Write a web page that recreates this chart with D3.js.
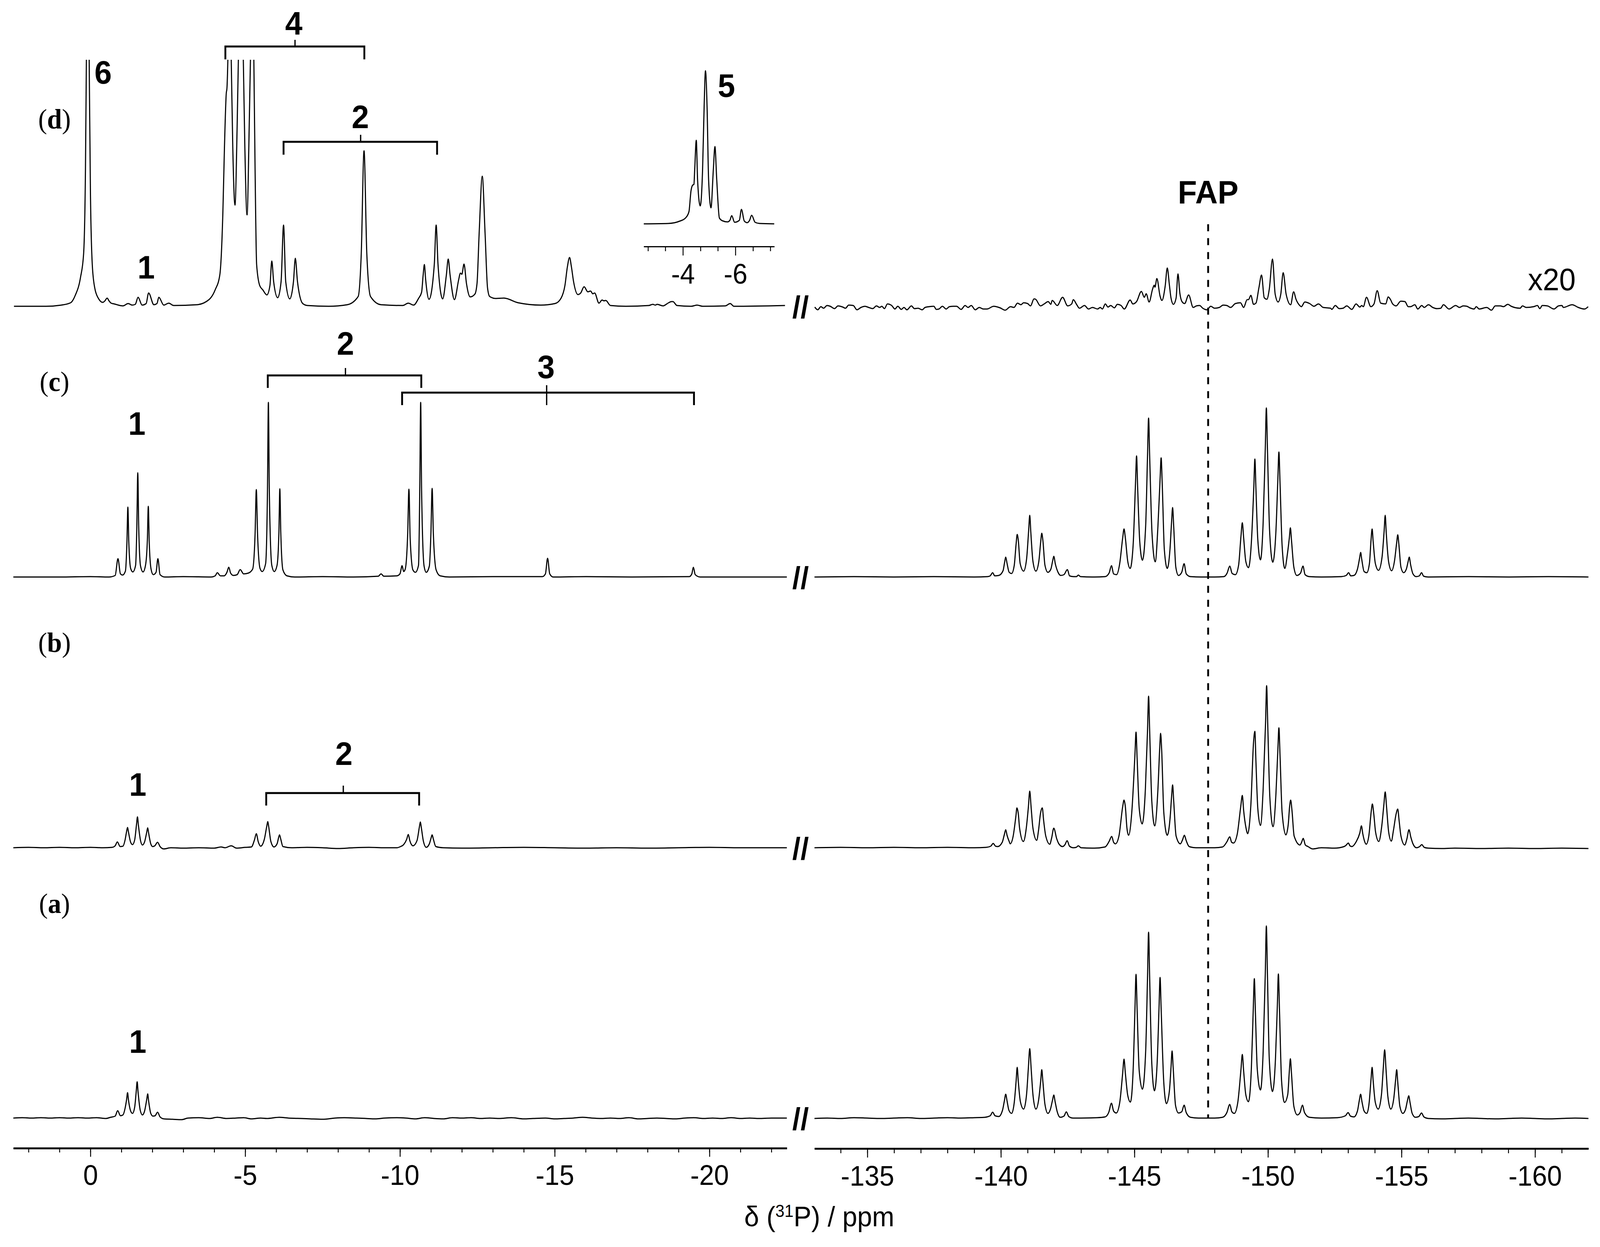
<!DOCTYPE html>
<html>
<head>
<meta charset="utf-8">
<script src="https://cdn.jsdelivr.net/npm/d3@7"></script>
<style>
  html, body { margin: 0; padding: 0; background: #fff; overflow: hidden; }
  text { font-family: "Liberation Sans", Arial, sans-serif; fill: #000; }
  .line { fill: none; stroke: #000; stroke-width: 3; stroke-linejoin: round; }
  .bracket { fill: none; stroke: #000; }
  .tag { font-size: 84px; font-weight: bold; text-anchor: middle; }
  .panel { font-family: "Liberation Serif", serif; font-size: 72px; text-anchor: middle; }
  .tick text { font-size: 72px; font-family: "Liberation Sans", Arial, sans-serif; }
</style>
</head>
<body>
<div id="chart"></div>
<script>
// spectra: [ppm, intensity above baseline]
var dLeft = [[2.47,0],[1.43,0],[0.94,3],[0.64,9],[0.49,28],[0.32,74],[0.22,134],[0.16,351],[0.13,631],[0.08,900],[0.04,631],[0,296],[-0.06,107],[-0.14,47],[-0.26,20],[-0.4,10],[-0.47,14],[-0.54,21],[-0.6,14],[-0.67,8],[-0.77,6],[-1.05,1],[-1.22,7],[-1.35,3],[-1.45,5],[-1.54,23],[-1.67,3],[-1.8,7],[-1.88,34],[-2.05,4],[-2.15,7],[-2.21,23],[-2.37,3],[-2.53,8],[-2.69,2],[-3.44,4],[-3.83,17],[-4.03,42],[-4.18,80],[-4.28,242],[-4.33,405],[-4.39,546],[-4.41,557],[-4.44,631],[-4.49,900],[-4.55,631],[-4.6,405],[-4.67,259],[-4.74,459],[-4.78,631],[-4.86,900],[-4.94,631],[-4.99,405],[-5.06,234],[-5.13,459],[-5.17,631],[-5.22,900],[-5.28,631],[-5.32,351],[-5.37,107],[-5.47,53],[-5.57,42],[-5.7,29],[-5.8,53],[-5.86,116],[-5.92,63],[-6.05,22],[-6.16,63],[-6.24,208],[-6.31,63],[-6.44,19],[-6.56,63],[-6.62,123],[-6.69,63],[-6.86,7],[-7.01,2],[-7.7,0],[-8.3,4],[-8.65,25],[-8.75,134],[-8.84,398],[-8.93,134],[-9.05,25],[-9.39,4],[-10.09,2],[-10.27,8],[-10.44,3],[-10.6,20],[-10.7,36],[-10.75,80],[-10.79,107],[-10.83,69],[-10.94,18],[-11.11,107],[-11.17,208],[-11.23,107],[-11.38,19],[-11.5,80],[-11.56,121],[-11.62,80],[-11.76,17],[-11.9,69],[-11.95,85],[-12,82],[-12.07,108],[-12.15,58],[-12.27,24],[-12.42,31],[-12.49,58],[-12.56,188],[-12.66,333],[-12.75,188],[-12.83,47],[-12.9,25],[-13.09,20],[-13.36,21],[-13.82,9],[-14.55,3],[-15.01,7],[-15.2,20],[-15.33,53],[-15.41,101],[-15.48,125],[-15.54,101],[-15.61,63],[-15.75,30],[-15.84,34],[-15.95,50],[-16.07,37],[-16.16,39],[-16.23,32],[-16.29,34],[-16.43,8],[-16.53,16],[-16.59,14],[-16.65,15],[-16.8,2],[-17.3,0],[-18.04,2],[-18.17,5],[-18.25,3],[-18.31,5],[-18.5,1],[-18.68,9],[-18.77,12],[-18.82,12],[-18.95,2],[-19.41,0],[-19.6,3],[-19.78,0],[-20.51,1],[-20.67,7],[-20.79,0],[-22.44,2]];

var dRight = [[-133.03,-2],[-133.14,-9],[-133.26,-1],[-133.36,-5],[-133.49,2],[-133.61,0],[-133.77,-6],[-133.9,1],[-134.08,-2],[-134.18,-5],[-134.3,3],[-134.47,2],[-134.61,-9],[-134.76,-3],[-134.91,0],[-135.05,-3],[-135.2,-6],[-135.34,1],[-135.46,-3],[-135.54,0],[-135.64,-6],[-135.75,6],[-135.91,2],[-136.03,-7],[-136.14,0],[-136.27,-8],[-136.37,-3],[-136.48,-9],[-136.65,1],[-136.76,-6],[-136.9,-5],[-137.05,-9],[-137.16,-3],[-137.31,-1],[-137.49,0],[-137.58,-8],[-137.68,-7],[-137.81,0],[-137.95,-7],[-138.07,-1],[-138.22,0],[-138.34,0],[-138.51,-8],[-138.66,2],[-138.77,-3],[-138.89,2],[-139.04,-9],[-139.19,-3],[-139.34,-7],[-139.48,-7],[-139.73,0],[-139.97,-4],[-140.16,-10],[-140.36,-1],[-140.49,-3],[-140.62,8],[-140.75,4],[-140.85,9],[-141,7],[-141.11,1],[-141.24,19],[-141.3,18],[-141.48,1],[-141.62,6],[-141.77,12],[-141.87,5],[-141.92,15],[-142.11,2],[-142.31,23],[-142.5,1],[-142.65,6],[-142.71,17],[-142.84,4],[-142.94,-5],[-143.13,2],[-143.28,-7],[-143.43,-3],[-143.62,-7],[-143.72,-3],[-143.8,-7],[-143.91,6],[-144.01,-2],[-144.11,2],[-144.25,-4],[-144.36,5],[-144.5,2],[-144.62,-7],[-144.84,16],[-144.94,6],[-145.08,12],[-145.26,38],[-145.37,23],[-145.44,32],[-145.55,11],[-145.68,44],[-145.74,54],[-145.77,49],[-145.84,71],[-145.96,26],[-146.03,15],[-146.15,51],[-146.23,98],[-146.31,54],[-146.37,21],[-146.46,5],[-146.56,21],[-146.63,83],[-146.7,34],[-146.79,11],[-146.88,7],[-147.03,29],[-147.2,-3],[-147.32,1],[-147.44,2],[-147.56,-5],[-147.71,-9],[-147.86,0],[-148,-5],[-148.18,-3],[-148.32,3],[-148.46,2],[-148.6,-3],[-148.78,7],[-148.97,9],[-149.09,-3],[-149.22,17],[-149.27,17],[-149.36,28],[-149.46,5],[-149.55,8],[-149.66,47],[-149.76,80],[-149.86,22],[-149.96,18],[-150.05,44],[-150.17,121],[-150.27,31],[-150.38,11],[-150.48,31],[-150.57,86],[-150.68,31],[-150.85,4],[-150.96,37],[-151.05,18],[-151.19,2],[-151.25,-1],[-151.38,11],[-151.56,7],[-151.72,0],[-151.89,6],[-152.07,-3],[-152.35,-5],[-152.39,-8],[-152.52,2],[-152.67,-6],[-152.81,-5],[-152.95,1],[-153.14,-8],[-153.3,6],[-153.44,-2],[-153.51,2],[-153.57,-1],[-153.69,23],[-153.85,-1],[-153.97,6],[-154.09,40],[-154.22,8],[-154.41,6],[-154.5,24],[-154.59,17],[-154.67,6],[-154.8,1],[-154.97,13],[-155.13,12],[-155.25,-1],[-155.34,-1],[-155.5,4],[-155.61,-7],[-155.76,2],[-155.85,-3],[-156.01,4],[-156.17,-3],[-156.33,-6],[-156.47,-5],[-156.57,4],[-156.78,-7],[-157.03,2],[-157.17,-3],[-157.31,1],[-157.45,0],[-157.56,-4],[-157.72,-7],[-157.8,-1],[-157.91,-7],[-158.19,-3],[-158.37,-10],[-158.51,1],[-158.7,1],[-158.82,-1],[-158.98,5],[-159.11,0],[-159.44,-5],[-159.53,1],[-159.67,-3],[-159.95,-1],[-160.09,2],[-160.18,-6],[-160.27,2],[-160.46,1],[-160.71,-7],[-160.88,1],[-161.01,2],[-161.06,-3],[-161.39,4],[-161.62,-3],[-161.85,-7],[-161.99,-1]];

var cLeft = [[2.49,0],[1,0],[0,1],[-0.6,0],[-0.8,4],[-0.89,47],[-0.97,8],[-1.04,5],[-1.13,15],[-1.18,90],[-1.21,179],[-1.24,90],[-1.3,22],[-1.37,13],[-1.46,30],[-1.5,130],[-1.53,267],[-1.56,130],[-1.62,28],[-1.7,13],[-1.78,30],[-1.84,95],[-1.87,181],[-1.9,90],[-1.96,20],[-2.03,6],[-2.12,12],[-2.18,47],[-2.25,6],[-2.4,0],[-3,1],[-3.9,0],[-4.03,3],[-4.1,11],[-4.2,3],[-4.32,3],[-4.41,12],[-4.47,25],[-4.53,10],[-4.62,4],[-4.74,6],[-4.84,19],[-4.95,8],[-5.1,10],[-5.24,20],[-5.32,110],[-5.36,224],[-5.4,110],[-5.48,22],[-5.55,14],[-5.66,34],[-5.72,220],[-5.75,447],[-5.78,220],[-5.86,30],[-5.94,14],[-6.03,30],[-6.09,115],[-6.12,226],[-6.15,115],[-6.22,18],[-6.35,3],[-6.6,0],[-7.5,1],[-8.5,0],[-9.3,2],[-9.39,8],[-9.48,2],[-9.9,3],[-10,8],[-10.07,29],[-10.12,14],[-10.17,20],[-10.25,110],[-10.29,225],[-10.33,100],[-10.42,18],[-10.5,12],[-10.6,30],[-10.64,220],[-10.67,447],[-10.7,220],[-10.78,28],[-10.85,12],[-10.95,28],[-11,110],[-11.04,227],[-11.08,110],[-11.17,18],[-11.3,3],[-11.6,0],[-13,1],[-14.6,1],[-14.7,8],[-14.77,48],[-14.84,8],[-14.95,0],[-16,1],[-17.5,0],[-19.35,1],[-19.43,8],[-19.48,25],[-19.54,6],[-19.7,0],[-21,0],[-22.5,0]];

var cRight = [[-133.02,0],[-134.5,1],[-136,0],[-137.5,1],[-139,0],[-139.5,1],[-139.6,3],[-139.69,11],[-139.77,3],[-139.92,4],[-140.08,16],[-140.14,38],[-140.18,51],[-140.23,35],[-140.31,12],[-140.4,9],[-140.5,30],[-140.57,85],[-140.61,109],[-140.65,95],[-140.72,35],[-140.85,15],[-140.96,45],[-141.04,120],[-141.08,158],[-141.12,115],[-141.2,40],[-141.31,15],[-141.42,40],[-141.49,90],[-141.53,112],[-141.57,95],[-141.65,30],[-141.76,12],[-141.87,20],[-141.94,42],[-141.98,53],[-142.04,33],[-142.14,12],[-142.24,4],[-142.36,6],[-142.49,19],[-142.57,3],[-142.72,1],[-142.83,1],[-142.9,5],[-142.98,1],[-143.5,0],[-143.9,1],[-144.05,10],[-144.14,29],[-144.22,8],[-144.33,6],[-144.45,35],[-144.56,100],[-144.61,123],[-144.66,100],[-144.75,40],[-144.84,22],[-144.95,80],[-145.04,240],[-145.08,310],[-145.12,230],[-145.2,90],[-145.3,43],[-145.42,130],[-145.49,310],[-145.53,407],[-145.57,310],[-145.66,110],[-145.78,39],[-145.88,130],[-145.96,250],[-146,305],[-146.04,240],[-146.12,70],[-146.23,22],[-146.33,70],[-146.39,140],[-146.43,178],[-146.47,130],[-146.55,25],[-146.65,4],[-146.77,12],[-146.86,34],[-146.94,8],[-147.1,1],[-147.5,0],[-148,0],[-148.35,1],[-148.47,10],[-148.57,28],[-148.66,9],[-148.78,6],[-148.9,30],[-148.99,105],[-149.04,139],[-149.09,100],[-149.17,40],[-149.27,24],[-149.38,90],[-149.47,230],[-149.51,302],[-149.55,225],[-149.62,95],[-149.72,44],[-149.82,140],[-149.9,330],[-149.94,433],[-149.98,330],[-150.06,120],[-150.18,38],[-150.3,120],[-150.37,250],[-150.41,320],[-150.45,245],[-150.53,80],[-150.63,22],[-150.73,60],[-150.8,100],[-150.84,126],[-150.88,95],[-150.97,25],[-151.08,4],[-151.22,10],[-151.31,28],[-151.39,6],[-151.55,1],[-152,0],[-152.75,1],[-152.93,4],[-153.02,11],[-153.1,3],[-153.22,4],[-153.35,20],[-153.43,48],[-153.47,63],[-153.51,46],[-153.6,14],[-153.7,11],[-153.8,35],[-153.86,95],[-153.9,123],[-153.94,90],[-154.02,35],[-154.14,17],[-154.27,50],[-154.35,118],[-154.39,158],[-154.43,112],[-154.52,38],[-154.63,16],[-154.74,42],[-154.82,88],[-154.86,108],[-154.9,85],[-154.98,25],[-155.08,11],[-155.18,20],[-155.25,40],[-155.29,51],[-155.34,32],[-155.43,8],[-155.55,1],[-155.67,3],[-155.75,11],[-155.83,2],[-156,0],[-157.5,1],[-159,0],[-160.5,1],[-162,0]];

var bLeft = [[2.49,0],[2,1],[1.5,0],[1,1],[0.5,0],[0,1],[-0.4,0],[-0.7,1],[-0.8,5],[-0.87,15],[-0.96,3],[-1.05,4],[-1.12,20],[-1.17,42],[-1.2,52],[-1.23,40],[-1.3,14],[-1.36,8],[-1.43,20],[-1.49,60],[-1.52,79],[-1.55,58],[-1.62,18],[-1.68,7],[-1.75,15],[-1.82,40],[-1.85,51],[-1.88,38],[-1.95,10],[-2.01,3],[-2.08,5],[-2.17,14],[-2.25,3],[-2.37,-3],[-2.6,0],[-3,-1],[-3.5,0],[-4,-1],[-4.22,2],[-4.35,0],[-4.55,5],[-4.72,-1],[-5,1],[-5.2,2],[-5.3,20],[-5.36,36],[-5.42,16],[-5.5,4],[-5.62,22],[-5.7,56],[-5.73,67],[-5.76,54],[-5.83,16],[-5.93,2],[-6.03,10],[-6.08,26],[-6.11,33],[-6.15,22],[-6.22,3],[-6.5,0],[-7,1],[-7.5,0],[-8,-2],[-8.5,0],[-9,1],[-9.5,0],[-9.9,0],[-10.02,3],[-10.12,8],[-10.22,22],[-10.27,34],[-10.32,18],[-10.42,5],[-10.55,18],[-10.63,54],[-10.66,66],[-10.69,52],[-10.76,16],[-10.85,1],[-10.95,10],[-11.01,26],[-11.04,33],[-11.08,22],[-11.16,3],[-11.4,0],[-12,-1],[-13,0],[-14,1],[-15,0],[-16,-1],[-17,0],[-18,-1],[-19,0],[-20,1],[-21,0],[-22.5,0]];

var bRight = [[-133.02,0],[-134,1],[-135,0],[-136,1],[-137,0],[-138,1],[-139,0],[-139.45,1],[-139.62,4],[-139.71,11],[-139.8,4],[-139.88,3],[-140.05,14],[-140.13,34],[-140.18,46],[-140.23,32],[-140.31,16],[-140.35,10],[-140.46,30],[-140.56,80],[-140.6,102],[-140.65,88],[-140.7,50],[-140.84,16],[-140.95,50],[-141.03,105],[-141.08,145],[-141.13,105],[-141.2,50],[-141.34,19],[-141.41,45],[-141.48,87],[-141.55,102],[-141.6,70],[-141.68,30],[-141.83,9],[-141.9,25],[-141.98,50],[-142.09,23],[-142.17,10],[-142.31,3],[-142.4,8],[-142.48,18],[-142.57,4],[-142.71,0],[-142.82,1],[-142.9,5],[-143,0],[-143.5,-1],[-143.9,2],[-144.05,16],[-144.15,29],[-144.22,14],[-144.29,10],[-144.42,30],[-144.56,105],[-144.61,122],[-144.66,105],[-144.72,50],[-144.78,32],[-144.9,90],[-145.02,240],[-145.06,296],[-145.1,230],[-145.18,100],[-145.29,61],[-145.41,150],[-145.49,300],[-145.53,388],[-145.57,300],[-145.65,120],[-145.76,56],[-145.88,150],[-145.95,260],[-145.98,293],[-146.02,250],[-146.1,90],[-146.23,32],[-146.34,80],[-146.39,130],[-146.43,161],[-146.47,120],[-146.56,30],[-146.72,10],[-146.8,20],[-146.87,32],[-146.94,18],[-147.05,3],[-147.3,0],[-148,0],[-148.3,2],[-148.46,15],[-148.57,28],[-148.64,14],[-148.71,12],[-148.85,35],[-148.98,105],[-149.04,134],[-149.09,95],[-149.18,50],[-149.24,36],[-149.36,110],[-149.46,270],[-149.51,298],[-149.55,220],[-149.62,100],[-149.72,57],[-149.82,150],[-149.91,320],[-149.95,415],[-149.99,320],[-150.07,130],[-150.19,54],[-150.3,140],[-150.37,250],[-150.41,307],[-150.45,240],[-150.53,90],[-150.67,33],[-150.76,60],[-150.81,105],[-150.85,122],[-150.9,95],[-150.98,30],[-151.2,7],[-151.26,14],[-151.32,24],[-151.4,7],[-151.5,3],[-151.67,-3],[-152,0],[-152.5,-1],[-152.85,3],[-152.92,6],[-153.01,12],[-153.07,5],[-153.14,3],[-153.3,15],[-153.44,38],[-153.5,56],[-153.55,36],[-153.63,14],[-153.68,9],[-153.78,32],[-153.87,95],[-153.91,112],[-153.96,88],[-154.03,40],[-154.15,16],[-154.26,55],[-154.34,110],[-154.39,143],[-154.44,105],[-154.52,40],[-154.62,17],[-154.7,45],[-154.8,87],[-154.86,99],[-154.91,70],[-154.98,30],[-155.12,7],[-155.2,22],[-155.28,46],[-155.35,27],[-155.43,10],[-155.56,0],[-155.68,3],[-155.76,8],[-155.85,1],[-156,-1],[-156.5,-2],[-157,-1],[-158,-2],[-159,-1],[-160,-2],[-161,-1],[-162,-2]];

var aLeft = [[2.49,0],[2.2,1],[1.9,0],[1.6,1],[1.3,0],[1,1],[0.7,0],[0.4,1],[0.1,0],[-0.2,1],[-0.5,-1],[-0.65,2],[-0.8,5],[-0.88,19],[-0.97,6],[-1.05,8],[-1.12,25],[-1.17,48],[-1.2,65],[-1.23,46],[-1.3,18],[-1.36,12],[-1.43,28],[-1.48,68],[-1.51,93],[-1.54,66],[-1.61,20],[-1.68,8],[-1.75,18],[-1.82,48],[-1.85,62],[-1.88,44],[-1.95,12],[-2.02,5],[-2.09,6],[-2.17,15],[-2.25,3],[-2.37,-2],[-2.65,-3],[-2.95,-4],[-3.15,0],[-3.5,1],[-3.85,-1],[-4.1,2],[-4.4,-1],[-4.7,0],[-4.95,1],[-5.2,-2],[-5.5,0],[-5.7,-1],[-6.1,2],[-6.4,0],[-6.8,-1],[-7.1,-2],[-7.5,-3],[-7.9,0],[-8.2,1],[-8.6,0],[-8.9,-1],[-9.2,-2],[-9.5,0],[-9.9,1],[-10.2,0],[-10.5,-2],[-10.8,1],[-11.1,-1],[-11.4,-2],[-11.7,1],[-12,0],[-12.3,1],[-12.6,-1],[-12.9,0],[-13.2,-1],[-13.6,1],[-14,-2],[-14.3,-1],[-14.7,0],[-15,-2],[-15.3,-1],[-15.6,0],[-15.9,2],[-16.2,0],[-16.5,-1],[-16.8,0],[-17.1,-1],[-17.4,1],[-17.7,-2],[-18,-1],[-18.3,0],[-18.6,-1],[-18.9,-2],[-19.2,0],[-19.5,1],[-19.8,-1],[-20.1,0],[-20.4,-1],[-20.7,1],[-21,-1],[-21.3,0],[-21.6,-1],[-22,0],[-22.5,0]];

var aRight = [[-133.02,-1],[-133.5,0],[-134,-1],[-134.5,1],[-135,0],[-135.5,-1],[-136,0],[-136.5,1],[-137,-1],[-137.5,0],[-138,1],[-138.5,0],[-139,1],[-139.4,2],[-139.6,6],[-139.69,15],[-139.78,6],[-139.92,4],[-140.06,20],[-140.13,44],[-140.18,61],[-140.23,44],[-140.3,20],[-140.4,12],[-140.5,40],[-140.57,95],[-140.61,130],[-140.65,95],[-140.73,42],[-140.85,23],[-140.96,60],[-141.03,130],[-141.08,178],[-141.13,130],[-141.2,60],[-141.31,23],[-141.42,50],[-141.49,95],[-141.53,124],[-141.57,95],[-141.65,35],[-141.76,12],[-141.86,24],[-141.93,45],[-141.98,59],[-142.03,42],[-142.11,16],[-142.22,2],[-142.36,5],[-142.45,16],[-142.54,4],[-142.7,0],[-143,0],[-143.6,1],[-143.9,3],[-144.04,15],[-144.14,38],[-144.22,18],[-144.32,13],[-144.45,40],[-144.56,115],[-144.61,151],[-144.66,115],[-144.75,58],[-144.85,41],[-144.95,120],[-145.02,280],[-145.06,368],[-145.1,280],[-145.18,120],[-145.3,74],[-145.42,170],[-145.49,360],[-145.53,476],[-145.57,360],[-145.65,140],[-145.75,70],[-145.85,140],[-145.92,280],[-145.96,360],[-146,280],[-146.1,90],[-146.2,37],[-146.31,70],[-146.37,130],[-146.41,172],[-146.45,130],[-146.54,32],[-146.65,13],[-146.77,16],[-146.86,33],[-146.94,14],[-147.1,2],[-147.4,0],[-148,0],[-148.3,2],[-148.46,14],[-148.57,35],[-148.65,16],[-148.74,12],[-148.87,40],[-148.99,125],[-149.04,163],[-149.09,120],[-149.17,60],[-149.27,42],[-149.38,130],[-149.45,280],[-149.49,357],[-149.53,270],[-149.6,125],[-149.72,72],[-149.82,170],[-149.9,370],[-149.94,492],[-149.98,370],[-150.05,150],[-150.17,68],[-150.28,150],[-150.35,285],[-150.39,369],[-150.43,280],[-150.51,95],[-150.62,40],[-150.74,60],[-150.8,120],[-150.84,152],[-150.88,115],[-150.97,30],[-151.1,8],[-151.2,14],[-151.29,33],[-151.37,14],[-151.55,2],[-152,0],[-152.6,1],[-152.9,6],[-153,14],[-153.09,5],[-153.22,3],[-153.35,18],[-153.42,45],[-153.47,61],[-153.52,42],[-153.6,18],[-153.7,12],[-153.79,40],[-153.86,100],[-153.9,130],[-153.94,95],[-154.02,40],[-154.13,23],[-154.25,60],[-154.32,130],[-154.37,175],[-154.42,125],[-154.49,55],[-154.6,23],[-154.71,50],[-154.78,98],[-154.82,124],[-154.86,92],[-154.94,30],[-155.05,12],[-155.15,22],[-155.22,44],[-155.27,57],[-155.32,40],[-155.4,12],[-155.52,2],[-155.65,4],[-155.75,13],[-155.84,3],[-156,-1],[-156.5,-2],[-157,-1],[-157.5,0],[-158,-1],[-158.5,-2],[-159,-1],[-159.5,0],[-160,-1],[-160.5,-2],[-161,-1],[-161.5,0],[-162,-1]];

var inset5 = [[-2.51,0],[-3.45,1],[-3.88,7],[-4.1,15],[-4.23,31],[-4.31,85],[-4.37,99],[-4.42,101],[-4.45,139],[-4.51,214],[-4.56,112],[-4.66,46],[-4.75,139],[-4.81,302],[-4.86,392],[-4.92,302],[-4.98,112],[-5.07,41],[-5.16,139],[-5.22,198],[-5.29,112],[-5.39,15],[-5.5,8],[-5.7,5],[-5.79,9],[-5.86,21],[-5.97,4],[-6.15,9],[-6.23,37],[-6.34,7],[-6.45,3],[-6.54,9],[-6.62,22],[-6.75,4],[-6.92,1],[-7.48,0]];

// axis ticks
var leftMajor = [0, -5, -10, -15, -20];
var leftMinor = d3.range(2, -23, -1);
var rightMajor = [-135, -140, -145, -150, -155, -160];
var rightMinor = d3.range(-134, -162, -1);
var insetMajor = [-4, -6];
var insetMinor = [-2.67, -3.33, -4.67, -5.33, -6.67, -7.33];

// stacked spectra, baselines in page units
var panelNames = ['d', 'c', 'b', 'a'];
var baselines = [784, 1477, 2170, 2862];
var panelLabelY = [329, 1001, 1669, 2337];
var leftSeries = [dLeft, cLeft, bLeft, aLeft];
var rightSeries = [dRight, cRight, bRight, aRight];

// brackets: panel index, ppm start, ppm end, ppm of stem, bar level, leg level, stem level
var bracketRows = [
    [0, -4.36, -8.85, -6.61, 665, 632, 682],
    [0, -6.24, -11.2, -8.73, 421, 388, 439],
    [1, -5.73, -10.69, -8.24, 516, 484, 535],
    [1, -10.07, -19.5, -14.74, 472, 440, 491],
    [2, -5.68, -10.62, -8.17, 140, 108, 159]
];
// assignment numbers: text, panel index, ppm, level of the text baseline
var tagRows = [
    ['6', 0, -0.41, 570], ['4', 0, -6.57, 695], ['2', 0, -8.72, 456], ['1', 0, -1.8, 71],
    ['2', 1, -8.24, 569], ['3', 1, -14.72, 509], ['1', 1, -1.5, 364],
    ['2', 2, -8.19, 212], ['1', 2, -1.53, 133],
    ['1', 3, -1.53, 167]
];
var fapPpm = -147.76;

var width = 4317, height = 3192;

// the window can come out narrower than asked, so fit the drawing to it
var svg = d3.select('#chart').append('svg')
    .attr('viewBox', '0 0 ' + width + ' ' + height)
    .attr('preserveAspectRatio', 'none')
    .style('width', window.innerWidth + 'px')
    .style('height', window.innerHeight + 'px')
    .style('display', 'block');

svg.append('rect').attr('width', width).attr('height', height).attr('fill', '#fff');

var xLeft = d3.scaleLinear().domain([2.49, -22.5]).range([36, 2123]);
var xRight = d3.scaleLinear().domain([-133.02, -162]).range([2197.6, 4285.8]);
var xInset = d3.scaleLinear().domain([-2.51, -7.48]).range([1737, 2089]);

function yScale(base) {
    return d3.scaleLinear().domain([0, 1000]).range([base, base - 1000]);
}

function spectrumLine(x, y) {
    return d3.line()
        .x(function (d) { return x(d[0]); })
        .y(function (d) { return y(d[1]); })
        .curve(d3.curveMonotoneX);
}

// peaks 4 and 6 in (d) run off the top
svg.append('clipPath').attr('id', 'clipD')
    .append('rect').attr('x', 0).attr('y', 153).attr('width', 2200).attr('height', 700);

panelNames.forEach(function (name, i) {
    var y = yScale(baselines[i]);
    svg.append('path')
        .datum(leftSeries[i])
        .attr('class', 'line')
        .attr('clip-path', i === 0 ? 'url(#clipD)' : null)
        .attr('d', spectrumLine(xLeft, y));

    svg.append('path')
        .datum(rightSeries[i])
        .attr('class', 'line')
        .attr('d', spectrumLine(xRight, y));

    var label = svg.append('text')
        .attr('class', 'panel')
        .attr('x', 147)
        .attr('y', panelLabelY[i]);
    label.append('tspan').text('(');
    label.append('tspan').style('font-weight', 'bold').text(name);
    label.append('tspan').text(')');

    svg.append('text')
        .attr('x', 2160)
        .attr('y', baselines[i] + 30)
        .attr('text-anchor', 'middle')
        .style('font-size', '80px')
        .style('font-weight', 'bold')
        .text('//');
});

// inset with signal 5
svg.append('path')
    .datum(inset5)
    .attr('class', 'line')
    .attr('d', spectrumLine(xInset, yScale(573)));

// brackets
bracketRows.forEach(function (r) {
    var y = yScale(baselines[r[0]]);
    svg.append('path')
        .attr('class', 'bracket')
        .attr('stroke-width', 5)
        .attr('d', 'M' + xLeft(r[1]) + ',' + y(r[5]) + 'V' + y(r[4]) + 'H' + xLeft(r[2]) + 'V' + y(r[5]));
    svg.append('line')
        .attr('stroke', '#000')
        .attr('stroke-width', 3.5)
        .attr('x1', xLeft(r[3])).attr('x2', xLeft(r[3]))
        .attr('y1', y(r[6]))
        .attr('y2', r[3] === -14.74 ? y(r[5]) : y(r[4]));
});

tagRows.forEach(function (r) {
    svg.append('text')
        .attr('class', 'tag')
        .attr('x', xLeft(r[2]))
        .attr('y', yScale(baselines[r[1]])(r[3]))
        .text(r[0]);
});

svg.append('text').attr('class', 'tag').attr('x', 1960).attr('y', 248).text('5');
svg.append('text').attr('class', 'tag').attr('x', xRight(fapPpm)).attr('y', 521).text('FAP');
svg.append('text')
    .attr('x', 4187).attr('y', 743)
    .attr('text-anchor', 'middle')
    .style('font-size', '80px')
    .text('x20');

// FAP marker
svg.append('line')
    .attr('x1', xRight(fapPpm)).attr('x2', xRight(fapPpm))
    .attr('y1', 574).attr('y2', 2862)
    .attr('stroke', '#000')
    .attr('stroke-width', 5)
    .attr('stroke-dasharray', '18 17.6');

// axes
function drawAxis(scale, major, minor, yPos, sizes, lineWidth, pad) {
    var g = svg.append('g').attr('transform', 'translate(0,' + yPos + ')');
    var minorAxis = d3.axisBottom(scale)
        .tickValues(minor)
        .tickSize(sizes[1])
        .tickSizeOuter(0)
        .tickFormat('');
    var majorAxis = d3.axisBottom(scale)
        .tickValues(major)
        .tickSize(sizes[0])
        .tickSizeOuter(0)
        .tickPadding(pad)
        .tickFormat(function (d) { return String(d); });
    g.append('g').call(minorAxis);
    g.append('g').call(majorAxis);
    g.selectAll('.domain').attr('stroke', '#000').attr('stroke-width', lineWidth);
    g.selectAll('.tick line').attr('stroke', '#000').attr('stroke-width', 2.5);
    g.selectAll('.tick text').attr('fill', '#000');
}

drawAxis(xLeft, leftMajor, leftMinor, 2939, [22, 11], 4.5, 21);
drawAxis(xRight, rightMajor, rightMinor, 2940, [23, 12], 4.5, 21);
drawAxis(xInset, insetMajor, insetMinor, 631, [23, 12], 3, 21);

var title = svg.append('text')
    .attr('x', 2008)
    .attr('y', 3139)
    .style('font-size', '72px');
title.append('tspan').text('δ (');
title.append('tspan').attr('dy', -24).style('font-size', '44px').text('31');
title.append('tspan').attr('dy', 24).text('P) / ppm');
</script>
</body>
</html>
